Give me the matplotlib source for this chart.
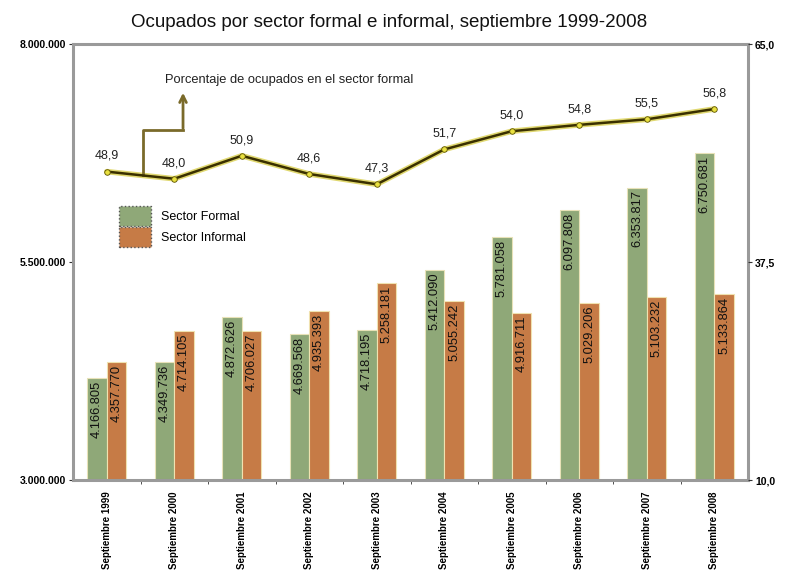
import matplotlib
matplotlib.use("Agg")
import matplotlib.pyplot as plt
import numpy as np

plt.rcParams['font.family'] = ['Liberation Sans', 'DejaVu Sans']

categories = ["Septiembre 1999", "Septiembre 2000", "Septiembre 2001", "Septiembre 2002",
              "Septiembre 2003", "Septiembre 2004", "Septiembre 2005", "Septiembre 2006",
              "Septiembre 2007", "Septiembre 2008"]
formal = [4166805, 4349736, 4872626, 4669568, 4718195, 5412090, 5781058, 6097808, 6353817, 6750681]
informal = [4357770, 4714105, 4706027, 4935393, 5258181, 5055242, 4916711, 5029206, 5103232, 5133864]
pct_formal = [48.9, 48.0, 50.9, 48.6, 47.3, 51.7, 54.0, 54.8, 55.5, 56.8]

green = "#8fa878"
orange = "#c67b46"

def fmt_thousands(v):
    return f"{v:,}".replace(",", ".")

fig = plt.figure(figsize=(7.95, 5.72), dpi=100)
ax = fig.add_axes([73/795, 1-480/572, 675/795, 436/572])

x = np.arange(len(categories))
w = 0.29
b1 = ax.bar(x - w/2, [f - 3e6 for f in formal], w, bottom=3e6, color=green,
            edgecolor="#e8e2b8", linewidth=0.8, label="Sector Formal", zorder=2)
b2 = ax.bar(x + w/2, [v - 3e6 for v in informal], w, bottom=3e6, color=orange,
            edgecolor="#f0e2b0", linewidth=0.8, label="Sector Informal", zorder=2)

for xi, v in zip(x - w/2, formal):
    ax.annotate(fmt_thousands(v), (xi, v), xytext=(0, -2), textcoords="offset points",
                rotation=90, ha="center", va="top", fontsize=9.3, color="#111111", zorder=3)
for xi, v in zip(x + w/2, informal):
    ax.annotate(fmt_thousands(v), (xi, v), xytext=(0, -2), textcoords="offset points",
                rotation=90, ha="center", va="top", fontsize=9.3, color="#111111", zorder=3)

ax.set_xlim(-0.5, len(categories) - 0.5)
ax.set_ylim(3e6, 8e6)
ax.set_yticks([3e6, 5.5e6, 8e6])
ax.set_yticklabels([fmt_thousands(int(t)) for t in [3e6, 5.5e6, 8e6]], fontsize=7.5, fontweight="bold")
ax.set_xticks(x)
ax.set_xticklabels(categories, rotation=90, fontsize=7, fontweight="bold", va="top")
ax.set_xticks(x[:-1] + 0.5, minor=True)
ax.tick_params(axis="x", which="major", length=0, pad=8)
ax.tick_params(axis="x", which="minor", length=3, color="#333333")
ax.tick_params(axis="y", length=3, color="#333333", pad=2)

for s in ["top", "left", "right", "bottom"]:
    ax.spines[s].set_color("#9a9a9a")
    ax.spines[s].set_linewidth(2.2)

ax2 = ax.twinx()
ax2.set_ylim(10, 65)
ax2.set_yticks([10, 37.5, 65])
ax2.set_yticklabels(["10,0", "37,5", "65,0"], fontsize=7.5, fontweight="bold")
ax2.tick_params(axis="y", length=3, color="#333333", pad=2)
for s in ["top", "left", "right", "bottom"]:
    ax2.spines[s].set_visible(False)

ax2.plot(x, pct_formal, color="#e0d870", linewidth=4, zorder=3, solid_capstyle="round")
ax2.plot(x, pct_formal, color="#3a3000", linewidth=1.8, zorder=4,
         marker="o", markersize=4, markerfacecolor="#e8e040", markeredgecolor="#5a5000",
         markeredgewidth=0.6)
for xi, v in zip(x, pct_formal):
    ax2.annotate(f"{v:.1f}".replace(".", ","), (xi, v), xytext=(0, 7), textcoords="offset points",
                 ha="center", va="bottom", fontsize=9, color="#222222")

# annotation arrow for the line
ax2.plot([0.537, 0.537, 1.13], [48.5, 54.15, 54.15], color="#7a6a2a", linewidth=2, zorder=3)
ax2.annotate("", xy=(1.13, 59.2), xytext=(1.13, 54.0),
             arrowprops=dict(arrowstyle="->", color="#7a6a2a", lw=2, mutation_scale=12))
ax2.text(0.86, 60.4, "Porcentaje de ocupados en el sector formal", fontsize=9.3,
         ha="left", va="center", color="#222222")

leg = ax.legend(handles=[b1, b2], loc="upper left", bbox_to_anchor=(0.06, 0.64),
                frameon=False, fontsize=9, handlelength=2.6, handleheight=2.1,
                labelspacing=0.05, handletextpad=0.8, borderaxespad=0)
for p in leg.get_patches():
    p.set_edgecolor("#555555")
    p.set_linestyle(":")
    p.set_linewidth(1)

fig.text(0.489, 0.96, "Ocupados por sector formal e informal, septiembre 1999-2008",
         ha="center", va="center", fontsize=13.5, color="#111111")

fig.savefig("out.png", dpi=100)
